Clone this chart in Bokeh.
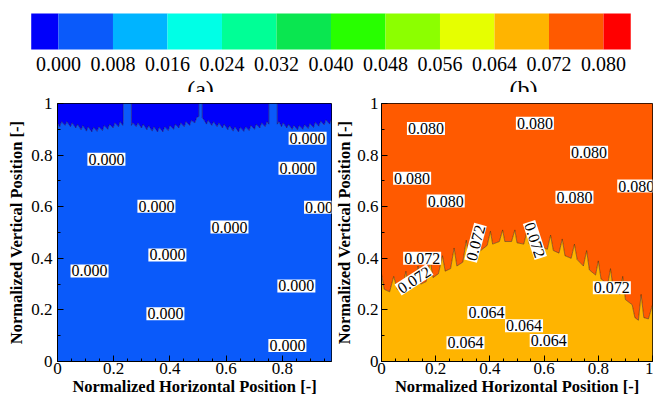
import math
from bokeh.plotting import figure
from bokeh.layouts import column, row
from bokeh.models import Range1d, FixedTicker
from bokeh.core.properties import value
from bokeh.embed import file_html
from bokeh.resources import INLINE

# ---------------- data ----------------
levels = [0.000, 0.008, 0.016, 0.024, 0.032, 0.040, 0.048, 0.056, 0.064, 0.072, 0.080]
level_labels = ["0.000", "0.008", "0.016", "0.024", "0.032", "0.040",
                "0.048", "0.056", "0.064", "0.072", "0.080"]
band_edges = [-0.004] + levels + [0.084]
band_colors = ["#0000fa", "#0a5afa", "#00b4ff", "#00ffe6", "#00ff96", "#0ae650",
               "#28ff00", "#8cff00", "#e6ff00", "#ffb400", "#ff5a00", "#ff0000"]

x_ticks = [0, 0.2, 0.4, 0.6, 0.8, 1.0]
x_tick_labels = ["0", "0.2", "0.4", "0.6", "0.8", "1"]
x_minor_ticks = [0.05, 0.1, 0.15, 0.25, 0.3, 0.35, 0.45, 0.5, 0.55, 0.65, 0.7, 0.75, 0.85, 0.9, 0.95]
y_ticks = [0, 0.2, 0.4, 0.6, 0.8, 1.0]
y_tick_labels = ["0", "0.2", "0.4", "0.6", "0.8", "1"]
y_minor_ticks = [0.1, 0.3, 0.5, 0.7, 0.9]

# panel (a): 0.000 contour (dark blue above, blue below)
a_x = [0.000, 0.008, 0.014, 0.027, 0.033, 0.046, 0.052, 0.065, 0.071, 0.084, 0.090, 0.103,
       0.109, 0.122, 0.128, 0.141, 0.147, 0.160, 0.166, 0.179, 0.185, 0.198, 0.204, 0.217,
       0.223, 0.232, 0.234, 0.234, 0.263, 0.263,
       0.268, 0.280, 0.286, 0.299, 0.305, 0.318, 0.324, 0.337, 0.343, 0.356, 0.362, 0.375,
       0.381, 0.394, 0.400, 0.413, 0.419, 0.432, 0.438, 0.451, 0.457, 0.470, 0.476, 0.489,
       0.495, 0.503, 0.503, 0.515, 0.515,
       0.522, 0.530, 0.536, 0.549, 0.555, 0.568, 0.574, 0.587, 0.593, 0.606, 0.612, 0.625,
       0.631, 0.644, 0.650, 0.663, 0.669, 0.682, 0.688, 0.701, 0.707, 0.720, 0.726, 0.739,
       0.745, 0.752, 0.752, 0.782, 0.782,
       0.788, 0.797, 0.803, 0.816, 0.822, 0.835, 0.841, 0.854, 0.860, 0.873, 0.879, 0.892,
       0.898, 0.911, 0.917, 0.930, 0.936, 0.949, 0.955, 0.968, 0.975]
a_y = [0.925, 0.910, 0.930, 0.915, 0.930, 0.910, 0.925, 0.905, 0.920, 0.898, 0.915, 0.893,
       0.910, 0.890, 0.908, 0.892, 0.910, 0.895, 0.915, 0.900, 0.920, 0.905, 0.925, 0.910,
       0.930, 0.915, 0.930, 1.000, 1.000, 0.915,
       0.925, 0.910, 0.925, 0.905, 0.920, 0.898, 0.915, 0.893, 0.910, 0.890, 0.908, 0.890,
       0.910, 0.895, 0.915, 0.900, 0.920, 0.905, 0.925, 0.910, 0.930, 0.915, 0.935, 0.925,
       0.945, 0.950, 1.000, 1.000, 0.945,
       0.935, 0.920, 0.935, 0.915, 0.930, 0.910, 0.925, 0.905, 0.920, 0.898, 0.915, 0.893,
       0.910, 0.890, 0.908, 0.892, 0.910, 0.895, 0.915, 0.900, 0.920, 0.905, 0.925, 0.910,
       0.930, 0.920, 1.000, 1.000, 0.920,
       0.930, 0.910, 0.925, 0.905, 0.920, 0.900, 0.915, 0.898, 0.915, 0.900, 0.918, 0.903,
       0.922, 0.907, 0.927, 0.912, 0.932, 0.917, 0.937, 0.920, 0.940]
a_lab_x = [0.174, 0.890, 0.854, 0.352, 0.612, 0.391, 0.114, 0.850, 0.384, 0.818, 0.945]
a_lab_y = [0.784, 0.865, 0.749, 0.602, 0.521, 0.413, 0.351, 0.293, 0.185, 0.062, 0.598]
a_lab_text = ["0.000"] * 11

# panel (b): 0.072 contour (orange-red above, orange below)
b_x = [0.000, 0.010, 0.030, 0.045, 0.058, 0.075, 0.090, 0.100, 0.120, 0.135, 0.145, 0.165,
       0.180, 0.190, 0.210, 0.225, 0.235, 0.255, 0.268, 0.278, 0.300, 0.313, 0.322, 0.345,
       0.357, 0.366, 0.390, 0.402, 0.410, 0.435, 0.447, 0.455, 0.480, 0.492, 0.500, 0.525,
       0.537, 0.545, 0.570, 0.580, 0.590, 0.612, 0.624, 0.634, 0.655, 0.667, 0.677, 0.700,
       0.712, 0.722, 0.745, 0.757, 0.767, 0.790, 0.800, 0.810, 0.835, 0.845, 0.855, 0.880,
       0.890, 0.900, 0.925, 0.935, 0.948, 0.958, 0.968, 0.985, 1.000]
b_y = [0.340, 0.280, 0.270, 0.330, 0.280, 0.270, 0.350, 0.285, 0.290, 0.370, 0.300, 0.310,
       0.390, 0.325, 0.340, 0.410, 0.350, 0.360, 0.440, 0.370, 0.385, 0.470, 0.400, 0.420,
       0.490, 0.430, 0.450, 0.505, 0.455, 0.465, 0.510, 0.465, 0.465, 0.510, 0.460, 0.455,
       0.505, 0.455, 0.450, 0.500, 0.445, 0.435, 0.490, 0.430, 0.420, 0.475, 0.410, 0.400,
       0.455, 0.395, 0.370, 0.430, 0.355, 0.335, 0.390, 0.320, 0.300, 0.360, 0.280, 0.260,
       0.330, 0.240, 0.220, 0.170, 0.160, 0.260, 0.170, 0.165, 0.220]
b_lab_x = [0.164, 0.566, 0.766, 0.113, 0.237, 0.712, 0.940,
           0.150, 0.120, 0.347, 0.566, 0.850,
           0.387, 0.526, 0.310, 0.617]
b_lab_y = [0.903, 0.923, 0.811, 0.710, 0.622, 0.637, 0.680,
           0.400, 0.317, 0.460, 0.471, 0.286,
           0.190, 0.139, 0.073, 0.081]
b_lab_text = ["0.080"] * 7 + ["0.072"] * 5 + ["0.064"] * 4
b_lab_angle_deg = [0, 0, 0, 0, 0, 0, 0,
                   0, 33, 75, -72, 0,
                   0, 0, 0, 0]

SERIF = "'Liberation Serif', 'Times New Roman', serif"

# ---------------- colour bar ----------------
cb_xr = Range1d(-0.00851, 0.08734)
cb = figure(width=653, height=92, x_range=cb_xr, y_range=Range1d(92, 0),
            output_backend="svg", toolbar_location=None, min_border=0)
cb.axis.visible = False
cb.grid.visible = False
cb.outline_line_color = None
cb.background_fill_color = "white"
cb.quad(left=band_edges[:-1], right=band_edges[1:], top=13, bottom=49,
        fill_color=band_colors, line_color=None)
cb.text(x=levels, y=[63] * len(levels), text=level_labels,
        text_font=value(SERIF), text_font_size="20px", text_color="black",
        text_align="center", text_baseline="middle")

def cb_frac(f):
    return cb_xr.start + f * (cb_xr.end - cb_xr.start)

# panel tags, partly hidden by the panels below (as in the reference)
cb.text(x=[cb_frac(200 / 653), cb_frac(523 / 653)], y=[75, 75], text=["(a)", "(b)"],
        text_font=value(SERIF), text_font_size="24px", text_color="black",
        text_align="center", text_baseline="top")

# ---------------- panels ----------------
def make_panel(width, x_end, min_left, lab_standoff, title_standoff):
    p = figure(width=width, height=306, x_range=Range1d(0, x_end), y_range=Range1d(0, 1),
               output_backend="svg", toolbar_location=None,
               min_border_left=min_left, min_border_right=1,
               min_border_top=11, min_border_bottom=36)
    p.grid.visible = False
    p.outline_line_color = "black"
    p.outline_line_width = 1
    p.background_fill_color = "white"
    p.border_fill_color = "white"
    p.xaxis.ticker = FixedTicker(ticks=x_ticks, minor_ticks=x_minor_ticks)
    p.yaxis.ticker = FixedTicker(ticks=y_ticks, minor_ticks=y_minor_ticks)
    p.xaxis.major_label_overrides = dict(zip(x_ticks, x_tick_labels))
    p.yaxis.major_label_overrides = dict(zip(y_ticks, y_tick_labels))
    p.xaxis.axis_label = "Normalized Horizontal Position [-]"
    p.yaxis.axis_label = "Normalized Vertical Position [-]"
    for ax in p.axis:
        ax.axis_line_color = "black"
        ax.axis_line_width = 1
        ax.major_tick_line_color = "black"
        ax.minor_tick_line_color = "black"
        ax.major_tick_in = 6
        ax.major_tick_out = 0
        ax.minor_tick_in = 3
        ax.minor_tick_out = 0
        ax.major_label_text_font = SERIF
        ax.major_label_text_font_size = "17px"
        ax.major_label_text_color = "black"
        ax.major_label_text_line_height = 1.0
        ax.axis_label_text_font = SERIF
        ax.axis_label_text_font_size = "16.5px"
        ax.axis_label_text_font_style = "bold"
        ax.axis_label_text_color = "black"
        ax.axis_label_text_line_height = 1.0
    p.xaxis.major_label_standoff = 1
    p.xaxis.axis_label_standoff = 0
    p.yaxis.major_label_standoff = lab_standoff
    p.yaxis.axis_label_standoff = title_standoff
    return p

def add_labels(p, xs, ys, texts, angles=None):
    ang = [math.radians(a) for a in (angles or [0] * len(xs))]
    p.text(x=xs, y=ys, text=texts, angle=ang,
           text_font=value(SERIF), text_font_size="16px", text_color="black",
           text_align="center", text_baseline="middle",
           background_fill_color="white", padding=1)

pa = make_panel(332, 0.975, 57, 5, 2)
pa.varea(x=a_x, y1=[0] * len(a_x), y2=a_y, fill_color=band_colors[1])
pa.varea(x=a_x, y1=a_y, y2=[1] * len(a_x), fill_color=band_colors[0])
pa.line(a_x, a_y, line_color="#000033", line_width=0.6, line_alpha=0.7)
add_labels(pa, a_lab_x, a_lab_y, a_lab_text)

pb = make_panel(321, 1.0, 46, 3, 0)
pb.varea(x=b_x, y1=[0] * len(b_x), y2=b_y, fill_color=band_colors[9])
pb.varea(x=b_x, y1=b_y, y2=[1] * len(b_x), fill_color=band_colors[10])
pb.line(b_x, b_y, line_color="#332200", line_width=0.6, line_alpha=0.8)
add_labels(pb, b_lab_x, b_lab_y, b_lab_text, b_lab_angle_deg)

layout = column(cb, row(pa, pb, spacing=0), spacing=0)
open("out.html", "w").write(file_html(layout, INLINE))
